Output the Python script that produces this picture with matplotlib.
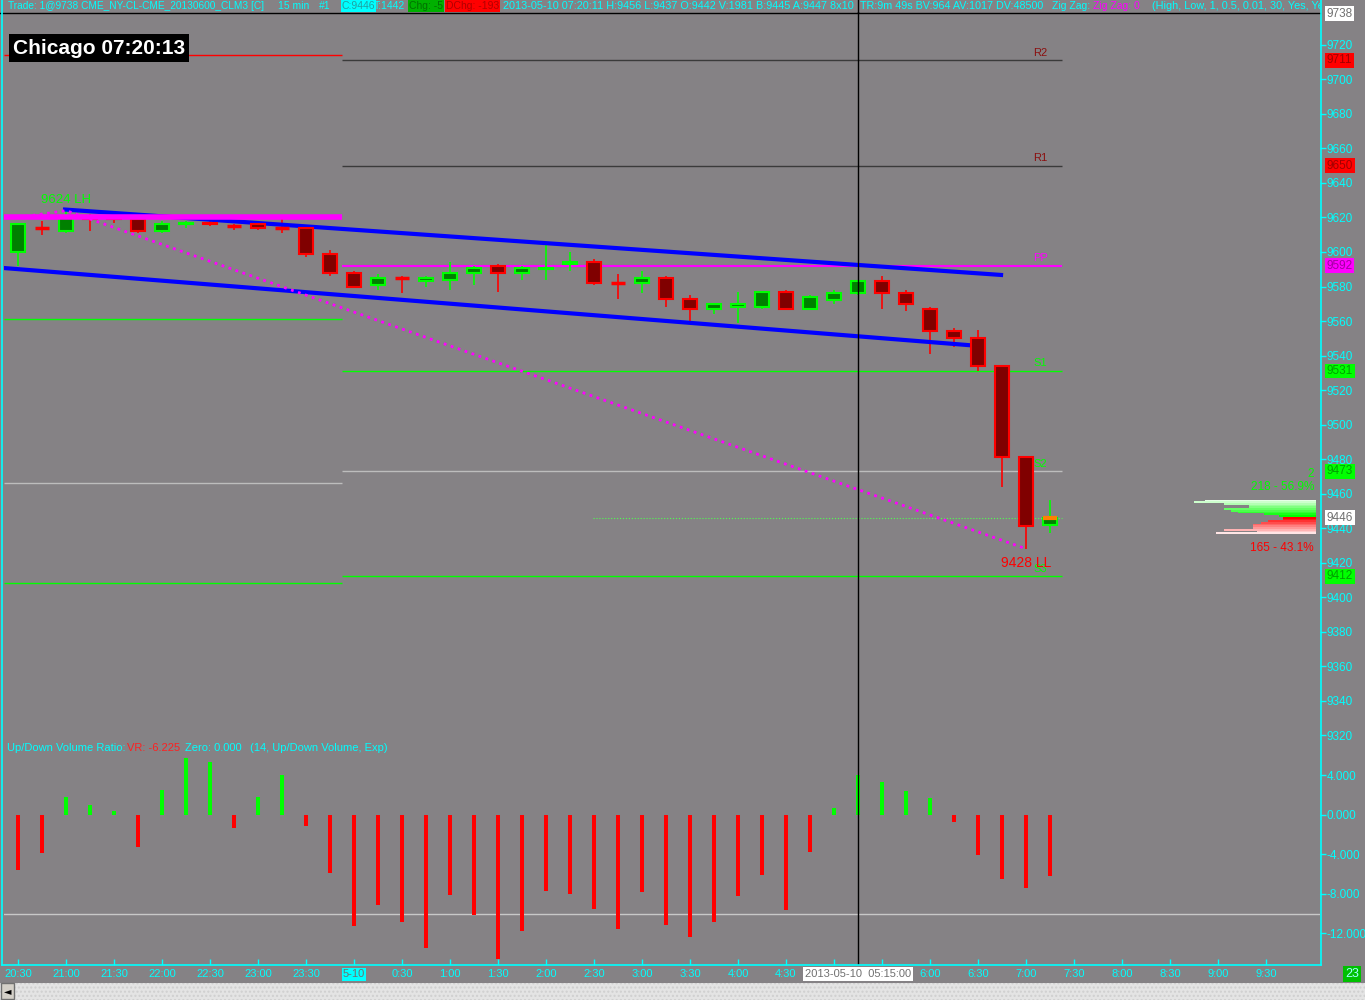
import matplotlib.pyplot as plt
from matplotlib.patches import Rectangle
from matplotlib.lines import Line2D
import matplotlib.transforms as mtransforms

plt.rcParams['font.family'] = ['Liberation Sans', 'DejaVu Sans']
plt.rcParams['font.size'] = 8

# 15 min bars, 20:30 (May 9) .. 07:15 (May 10)
opens  = [9600, 9614, 9612, 9621, 9620, 9619, 9612, 9616, 9617, 9615, 9616, 9614, 9614, 9599, 9588,
          9581, 9585, 9583, 9584, 9588, 9592, 9588, 9590, 9593, 9594, 9582, 9582, 9585, 9573, 9567,
          9568, 9568, 9577, 9567, 9572, 9576, 9583, 9576, 9567, 9554, 9550, 9534, 9481, 9442]
highs  = [9616, 9618, 9624, 9622, 9622, 9620, 9618, 9618, 9618, 9616, 9617, 9619, 9615, 9601, 9589,
          9587, 9586, 9586, 9594, 9592, 9593, 9592, 9604, 9600, 9596, 9587, 9589, 9586, 9575, 9570,
          9577, 9577, 9578, 9575, 9578, 9584, 9586, 9578, 9568, 9556, 9555, 9534, 9482, 9456]
lows   = [9592, 9610, 9611, 9612, 9617, 9611, 9611, 9614, 9615, 9613, 9613, 9611, 9597, 9586, 9579,
          9578, 9576, 9580, 9578, 9581, 9577, 9584, 9584, 9589, 9581, 9573, 9576, 9568, 9560, 9564,
          9559, 9567, 9567, 9567, 9570, 9575, 9567, 9566, 9541, 9545, 9531, 9464, 9428, 9437]
closes = [9616, 9614, 9621, 9619, 9619, 9612, 9616, 9617, 9616, 9615, 9614, 9614, 9599, 9588, 9580,
          9585, 9585, 9585, 9588, 9591, 9588, 9591, 9591, 9594, 9582, 9582, 9585, 9573, 9567, 9570,
          9570, 9577, 9567, 9574, 9576, 9583, 9576, 9570, 9554, 9550, 9534, 9481, 9441, 9446]

# up/down volume ratio
vr = [-5.6, -3.8, 1.8, 1.0, 0.4, -3.2, 2.5, 5.8, 5.4, -1.3, 1.8, 4.0, -1.1, -5.9, -11.2,
      -9.1, -10.8, -13.5, -8.1, -10.1, -14.6, -11.7, -7.7, -8.0, -9.5, -11.5, -7.8, -11.1, -12.4, -10.8,
      -8.2, -6.1, -9.6, -3.7, 0.7, 4.05, 3.3, 2.4, 1.7, -0.7, -4.05, -6.5, -7.4, -6.225]

# 5:00 and 5:30 sit under the cursor date box
time_labels = ['20:30', '21:00', '21:30', '22:00', '22:30', '23:00', '23:30', '5-10', '0:30', '1:00',
               '1:30', '2:00', '2:30', '3:00', '3:30', '4:00', '4:30', '', '', '6:00',
               '6:30', '7:00', '7:30', '8:00', '8:30', '9:00', '9:30']

# floor pivots
piv_names = ['R2', 'R1', 'PP', 'S1', 'S2', 'S3']
piv_today = [9711, 9650, 9592, 9531, 9473, 9412]
piv_prev = [9714, 9650, 9620, 9561, 9466, 9408]

# volume profile of current bar (price, volume)
vp_up_px = [9456, 9455, 9454, 9453, 9452, 9451, 9450, 9449, 9448, 9447]
vp_up_vol = [30, 33, 25, 18, 18, 25, 23, 21, 14, 10]
vp_dn_px = [9446, 9445, 9444, 9443, 9442, 9441, 9440, 9439, 9438, 9437]
vp_dn_vol = [9, 9, 13, 15, 17, 17, 17, 25, 16, 27]

bg = '#858285'
cyan = '#00ffff'
W, H = 1365, 1000

def fx(x):
    return x / W

def fy(y):
    return 1 - y / H

fig = plt.figure(figsize=(13.65, 10), dpi=100, facecolor=bg)
ax = fig.add_axes([fx(4), fy(742), fx(1320) - fx(4), fy(12) - fy(742)])
axv = fig.add_axes([fx(4), fy(965), fx(1320) - fx(4), fy(742) - fy(965)], sharex=ax)
for a in (ax, axv):
    a.set_facecolor('none')
    for s in a.spines.values():
        s.set_visible(False)

ax.set_xlim(-0.583, 54.25)
ax.set_ylim(9316.0, 9739.1)
axv.set_ylim(-15.19, 7.39)

# pivot lines
pcol = ['#3a3a3a', '#3a3a3a', '#ff00ff', '#00ff00', '#bdbdbd', '#00ff00']
prevcol = ['#ff0000', None, '#ff00ff', '#00ff00', '#bdbdbd', '#00ff00']
tcol = ['#8b1010', '#8b1010', '#ff00ff', '#00ff00', '#00ff00', '#00ff00']
for n, p, c, tc in zip(piv_names, piv_today, pcol, tcol):
    ax.hlines(p, 13.5, 43.5, color=c, lw=1.5 if n == 'PP' else 1, zorder=2)
    ax.text(42.6, p + 1.5, n, color=tc, fontsize=8, ha='center', va='bottom', zorder=6)
for n, p, c in zip(piv_names, piv_prev, prevcol):
    if c is None:
        continue
    ax.hlines(p, -0.583, 13.5, color=c, lw=4 if n == 'PP' else 1, zorder=5)

# last price dotted
ax.hlines(closes[-1], 23.96, 43.5, color='#50ff50', lw=0.8, ls=':', zorder=2)

# trend channel
ax.plot([1.96, 40.96], [9624.6, 9586.7], color='#0000ff', lw=3, zorder=4)
ax.plot([-0.58, 40.08], [9590.7, 9545.5], color='#0000ff', lw=3, zorder=4)

# zigzag
ax.plot([0, 2, 42], [9620, 9624, 9428], color='#ff00ff', lw=2, ls=':', zorder=5)
ax.text(2, 9630, '9624 LH', color='#00ff00', fontsize=9.5, ha='center', va='center', zorder=6)
ax.text(42, 9420, '9428 LL', color='#ff0000', fontsize=10, ha='center', va='center', zorder=6)

# candles
for i, (o, h, l, c) in enumerate(zip(opens, highs, lows, closes)):
    up = c > o
    edge = '#00ff00' if up else '#ff0000'
    face = '#008000' if up else '#800000'
    ax.vlines(i, l, h, color=edge, lw=1.2, zorder=3)
    if o == c:
        ax.hlines(o, i - 0.3, i + 0.3, color=edge, lw=2.5, zorder=4)
    else:
        ax.add_patch(Rectangle((i - 0.3, min(o, c)), 0.6, abs(c - o), facecolor=face,
                               edgecolor=edge, lw=1.5, zorder=4))
n = len(closes) - 1
ax.hlines(closes[-1], n - 0.3, n + 0.3, color='#ff8000', lw=3, zorder=5)

# volume profile
right = (1316 - 18) / 24
scale = 122 / 24 / max(vp_up_vol + vp_dn_vol)
for k, (p, v) in enumerate(zip(vp_up_px, vp_up_vol)):
    t = 0.1 + 0.9 * k / (len(vp_up_px) - 1)
    ax.barh(p, v * scale, left=right - v * scale, height=1, color=(1 - t, 1, 1 - t), zorder=3)
for k, (p, v) in enumerate(zip(vp_dn_px, vp_dn_vol)):
    t = 1 - 0.9 * k / (len(vp_dn_px) - 1)
    ax.barh(p, v * scale, left=right - v * scale, height=1, color=(1, 1 - t, 1 - t), zorder=3)
fig.text(fx(1314), fy(474), '2', color='#00ff00', fontsize=8.5, ha='right', va='center')
fig.text(fx(1314), fy(487), '218 - 56.9%', color='#00ff00', fontsize=8.5, ha='right', va='center')
fig.text(fx(1314), fy(548), '165 - 43.1%', color='#ff0000', fontsize=8.5, ha='right', va='center')

# price axis
ax.yaxis.tick_right()
ax.set_yticks(range(9320, 9721, 20))
ax.tick_params(axis='y', colors=cyan, labelcolor=cyan, length=4, width=1, pad=1, labelsize=8.5)
ax.tick_params(axis='x', bottom=False, labelbottom=False)

# price tags
tr = mtransforms.blended_transform_factory(ax.transAxes, ax.transData)
tags = [(9738, 'white', '#707070'), (9711, '#ff0000', '#a00000'), (9650, '#ff0000', '#a00000'),
        (9592, '#ff00ff', '#a000a0'), (9531, '#00ff00', '#00a000'), (9473, '#00ff00', '#00a000'),
        (closes[-1], 'white', '#707070'), (9412, '#00ff00', '#00a000')]
for p, fc, tc in tags:
    ax.text(1.0052, p, str(p), transform=tr, color=tc, fontsize=8.5, va='center', ha='left',
            bbox=dict(facecolor=fc, edgecolor='none', pad=1), clip_on=False, zorder=10)

# volume pane
vcols = ['#00ff00' if v > 0 else '#ff0000' for v in vr]
axv.bar(range(len(vr)), vr, width=0.14, color=vcols, zorder=3)
axv.axhline(-10, color='#c8c8c8', lw=1, zorder=1)
axv.yaxis.tick_right()
axv.set_yticks([4, 0, -4, -8, -12])
axv.set_yticklabels(['4.000', '0.000', '-4.000', '-8.000', '-12.000'])
axv.tick_params(axis='y', colors=cyan, labelcolor=cyan, length=4, width=1, pad=1, labelsize=8.5)
axv.set_xticks(range(0, 53, 2))
axv.set_xticklabels(time_labels)
axv.tick_params(axis='x', colors=cyan, labelcolor=cyan, direction='in', length=4, width=1,
                pad=3, labelsize=8)
lab = axv.get_xticklabels()[7]
lab.set_color('#707070')
lab.set_bbox(dict(facecolor=cyan, edgecolor='none', pad=1))

fig.text(fx(7), fy(748), 'Up/Down Volume Ratio:', color=cyan, va='center')
fig.text(fx(127), fy(748), 'VR: -6.225', color='#ff2020', va='center')
fig.text(fx(185), fy(748), 'Zero: 0.000', color=cyan, va='center')
fig.text(fx(250), fy(748), '(14, Up/Down Volume, Exp)', color=cyan, va='center')

# cursor
ax.axvline(35, color='black', lw=1, zorder=8)
axv.axvline(35, color='black', lw=1, zorder=8)
fig.add_artist(Line2D([fx(858), fx(858)], [fy(0), fy(12)], color='black', lw=1))
fig.add_artist(Line2D([fx(0), fx(1320)], [fy(12.5), fy(12.5)], color='black', lw=1))

# frame lines
fig.add_artist(Line2D([fx(1321), fx(1321)], [fy(0), fy(965)], color=cyan, lw=1.2))
fig.add_artist(Line2D([fx(2), fx(1321)], [fy(965), fy(965)], color=cyan, lw=1.2))
fig.add_artist(Line2D([fx(2), fx(2)], [fy(0), fy(965)], color=cyan, lw=1.2))

# header
hdr = fig.add_axes([0, fy(12), fx(1320), 12 / H])
hdr.set_xlim(0, 1320)
hdr.set_ylim(12, 0)
hdr.axis('off')
parts = [(8, 'Trade: 1@9738 CME_NY-CL-CME_20130600_CLM3 [C]', cyan, None, 7.3),
         (278, '15 min', cyan, None, 7.5),
         (319, '#1', cyan, None, 7.5),
         (342, 'C:9446', '#20a0a0', cyan, 7.5),
         (374, 'T:1442', cyan, None, 7.5),
         (409, 'Chg: -5', '#007000', '#00b000', 7.5),
         (446, 'DChg: -193', '#b00000', '#ff0000', 7.5),
         (503, '2013-05-10 07:20:11 H:9456 L:9437 O:9442 V:1981 B:9445 A:9447 8x10', cyan, None, 7.85),
         (860, 'TR:9m 49s BV:964 AV:1017 DV:48500', cyan, None, 7.75),
         (1052, 'Zig Zag:', cyan, None, 7.5),
         (1093, 'Zig Zag: 0', '#ff00ff', None, 7.5),
         (1152, '(High, Low, 1, 0.5, 0.01, 30, Yes, Yes)', cyan, None, 7.8)]
for x, s, c, b, fs in parts:
    kw = dict(bbox=dict(facecolor=b, edgecolor='none', pad=0.5)) if b else {}
    hdr.text(x, 6, s, color=c, fontsize=fs, va='center', ha='left', clip_on=True, **kw)

# clock
fig.text(fx(13), fy(48), 'Chicago 07:20:13', color='white', fontsize=15, fontweight='bold',
         va='center', ha='left', bbox=dict(facecolor='black', edgecolor='none', pad=3))

# cursor date tooltip
fig.text(fx(858), fy(974), '2013-05-10  05:15:00', color='#707070', fontsize=8, ha='center',
         va='center', bbox=dict(facecolor='white', edgecolor='none', pad=1.5), zorder=10)
fig.text(fx(1352), fy(974), '23', color='#a0ffff', fontsize=9, ha='center', va='center',
         bbox=dict(facecolor='#00c000', edgecolor='none', pad=1.5))

# scrollbar
fig.add_artist(Rectangle((0, 0), 1, 17 / H, transform=fig.transFigure, facecolor='#e4e4e4',
                         edgecolor='#cfcfcf', hatch='....', lw=0))
fig.add_artist(Rectangle((fx(1), fy(999)), fx(13), 16 / H, transform=fig.transFigure,
                         facecolor='#d4d0c8', edgecolor='#707070', lw=1))
fig.text(fx(7.5), fy(991), '\u25c4', color='black', fontsize=7, ha='center', va='center',
         family='DejaVu Sans')

fig.savefig('out.png', dpi=100, facecolor=bg)
